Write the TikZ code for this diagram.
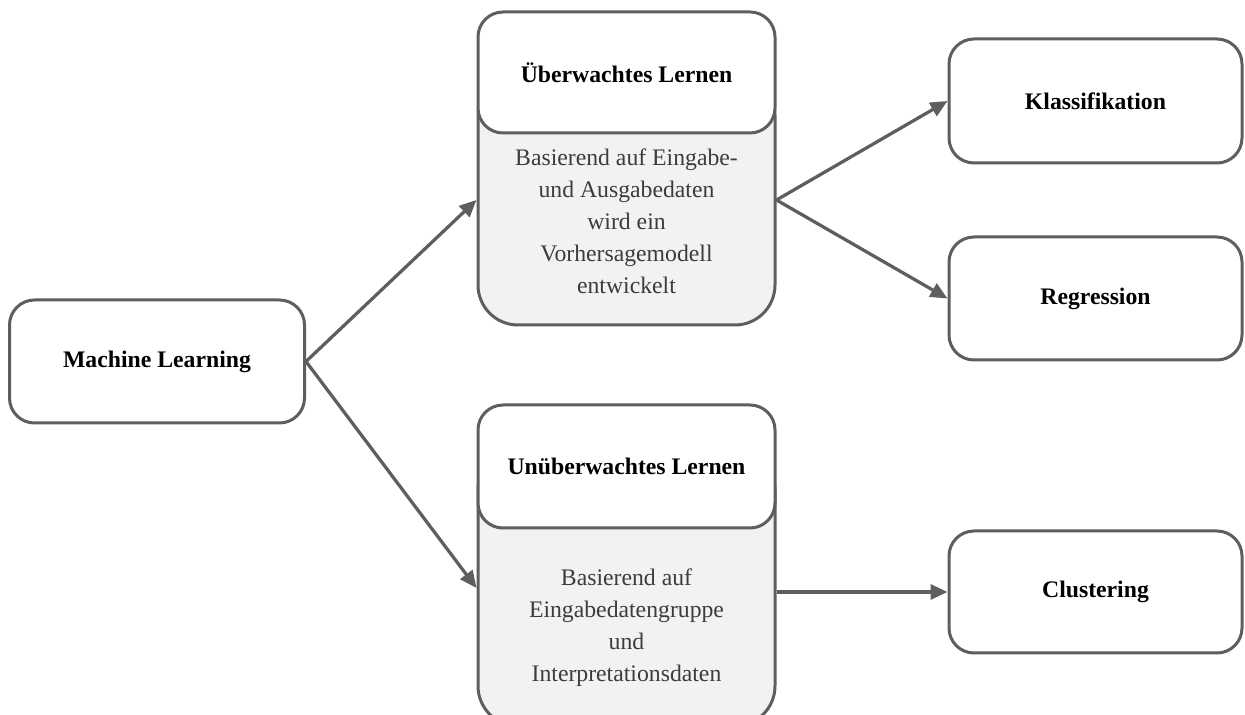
\documentclass[tikz,border=0pt]{standalone}
\usepackage{fontspec}
\setmainfont{Liberation Serif}
\usetikzlibrary{arrows.meta,positioning}

\definecolor{linegray}{HTML}{5E5E5E}
\definecolor{fillgray}{HTML}{F2F2F2}
\definecolor{textgray}{HTML}{3C3C3C}

\begin{document}
\begin{tikzpicture}[
        box/.style={draw=linegray, line width=0.06cm, rounded corners=0.5cm, fill=white,
            minimum width=5.9cm, minimum height=2.46cm,
            font=\fontsize{13.5}{18}\selectfont\bfseries},
        head/.style={box, minimum width=5.94cm, minimum height=2.42cm},
        body/.style={draw=linegray, line width=0.06cm, rounded corners=0.8cm, fill=fillgray,
            minimum width=5.94cm},
        desc/.style={align=center, text=textgray, font=\fontsize{13.5}{18.2}\selectfont},
        link/.style={draw=linegray, line width=0.065cm, -{Triangle[length=0.34cm,width=0.3cm]}}
    ]
        \useasboundingbox (0,0) rectangle (24.9,-14.3);

        \node [box] (ml) at (3.14,-7.23) {Machine Learning};

        \node [body, minimum height=5.0cm] (uebBody) at (12.53,-4.0) {};
        \node [head] (uebHead) at (12.53,-1.45) {Überwachtes Lernen};
        \node [desc] (uebText) at (12.53,-4.42) {Basierend auf Eingabe-\\und Ausgabedaten\\wird ein\\Vorhersagemodell\\entwickelt};

        \node [body, minimum height=5.52cm] (unuBody) at (12.53,-11.76) {};
        \node [head, minimum height=2.46cm] (unuHead) at (12.53,-9.33) {Unüberwachtes Lernen};
        \node [desc] (unuText) at (12.53,-12.56) {Basierend auf\\Eingabedatengruppe\\und\\Interpretationsdaten};

        \node [box, minimum width=5.86cm, minimum height=2.48cm] (klass) at (21.91,-2.02) {Klassifikation};
        \node [box, minimum width=5.86cm, minimum height=2.46cm] (regr) at (21.91,-5.97) {Regression};
        \node [box, minimum width=5.86cm, minimum height=2.44cm] (clus) at (21.91,-11.84) {Clustering};

    \draw
        (ml.east) edge[link] (uebBody.west)
        (ml.east) edge[link] (unuBody.west)

        (uebBody.east) edge[link] (klass.west)
        (uebBody.east) edge[link] (regr.west)

        (clus.west -| unuBody.east) edge[link] (clus.west)
        ;
    \end{tikzpicture}
\end{document}
